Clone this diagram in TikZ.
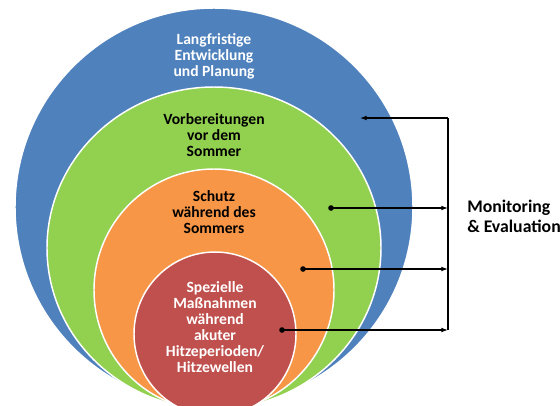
\documentclass[tikz,border=0pt]{standalone}
\usepackage{fontspec}
\setmainfont{Carlito}
\usetikzlibrary{arrows.meta}
\definecolor{cblue}{HTML}{4F81BD}
\definecolor{cgreen}{HTML}{92D050}
\definecolor{corange}{HTML}{F79646}
\definecolor{cred}{HTML}{C0504D}
\tikzset{
  ring/.style={draw=white, line width=1.1pt},
  lbl/.style={align=center, font=\fontsize{11.7}{12.1}\selectfont\bfseries, inner sep=0pt},
  conn/.style={line width=0.95pt, black},
  tip/.style={-{Latex[length=5pt,width=3.6pt]}},
  dotc/.style={fill=black, circle, inner sep=0pt, minimum size=4.2pt}
}
\begin{document}
\begin{tikzpicture}[x=0.75pt,y=-0.75pt]
\clip (0,0) rectangle (560,405);
\fill[white] (0,0) rectangle (560,405);
% rings
\path[ring, fill=cblue]   (214,207) ellipse [x radius=199, y radius=199];
\path[ring, fill=cgreen]  (214,248) ellipse [x radius=167, y radius=161];
\path[ring, fill=corange] (214,290) ellipse [x radius=120, y radius=121];
\path[ring, fill=cred]    (215,334) ellipse [x radius=81, y radius=82];
% labels
\node[lbl, text=white] (tblue) at (214,56) {Langfristige\\Entwicklung\\und Planung};
\node[lbl, text=black] (tgreen) at (214,135) {Vorbereitungen\\vor dem\\Sommer};
\node[lbl, text=black] (torange) at (214,212) {Schutz\\während des\\Sommers};
\node[lbl, text=white] (tred) at (215,327) {Spezielle\\Maßnahmen\\während\\akuter\\Hitzeperioden/\\Hitzewellen};
% bracket coordinates
\coordinate (b1) at (448,118);
\coordinate (b2) at (448,208);
\coordinate (b3) at (448,269);
\coordinate (b4) at (448,330);
\coordinate (a1) at (360,118);
\node[dotc] (d2) at (331,208) {};
\node[dotc] (d3) at (303,269) {};
\node[dotc] (d4) at (282,330) {};
\draw[conn] (b1) -- (b4);
\draw[conn, tip] (b1) -- (a1);
\draw[conn, tip] (d2.center) -- (b2);
\draw[conn, tip] (d3.center) -- (b3);
\draw[conn, tip] (d4.center) -- (b4);
\node[anchor=west, align=left, inner sep=0pt, font=\fontsize{13.3}{15}\selectfont\bfseries] (mon) at (467,216) {Monitoring\\\& Evaluation};
\end{tikzpicture}
\end{document}
